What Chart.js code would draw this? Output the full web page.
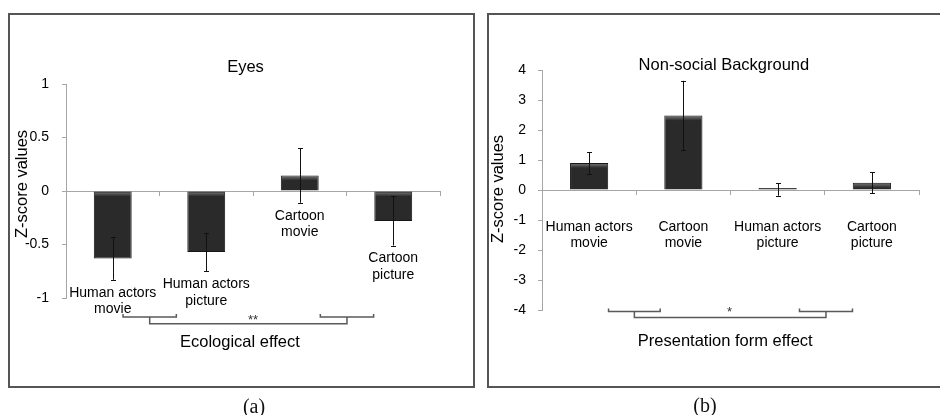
<!DOCTYPE html>
<html><head><meta charset="utf-8">
<script src="https://cdn.jsdelivr.net/npm/chart.js@4.4.1/dist/chart.umd.min.js"></script>
<style>
html,body{margin:0;padding:0;background:#fff;width:940px;height:415px;overflow:hidden;position:relative;}
.box{position:absolute;border:2px solid #555;box-sizing:border-box;}
canvas{position:absolute;top:0;}
.cap{position:absolute;font:20px "Liberation Serif","Times New Roman",serif;transform:translate(-50%,-50%);color:#111;white-space:nowrap;}
</style></head><body>
<div class="box" style="left:8px;top:13px;width:467px;height:375px"></div>
<div class="box" style="left:487px;top:13px;width:470px;height:375px"></div>
<canvas id="ca" width="480" height="415" style="left:0"></canvas>
<canvas id="cb" width="460" height="415" style="left:480px"></canvas>
<div class="cap" style="left:254px;top:406px">(a)</div>
<div class="cap" style="left:705px;top:405px">(b)</div>
<script>
// ---- data ----
const eyesCategories = [["Human actors","movie"],["Human actors","picture"],["Cartoon","movie"],["Cartoon","picture"]];
const eyesMeans  = [-0.63, -0.57, 0.145, -0.28];
const eyesErrors = [0.20, 0.18, 0.255, 0.23];
const eyesTicks  = [-1, -0.5, 0, 0.5, 1];

const bgCategories = [["Human actors","movie"],["Cartoon","movie"],["Human actors","picture"],["Cartoon","picture"]];
const bgMeans  = [0.9, 2.48, 0.02, 0.24];
const bgErrors = [0.36, 1.16, 0.21, 0.35];
const bgTicks  = [-4, -3, -2, -1, 0, 1, 2, 3, 4];

const FONT = '"Liberation Sans", Arial, sans-serif';
Chart.defaults.font.family = FONT;
Chart.defaults.color = '#000';

const annot = {
  id: 'annot',
  afterDatasetsDraw(chart, args, o) {
    const ctx = chart.ctx, xs = chart.scales.x, ys = chart.scales.y;
    const meta = chart.getDatasetMeta(0);
    const ds = chart.data.datasets[0];
    ctx.save();
    // bevel highlight at the top edge of each bar
    meta.data.forEach(bar => {
      const p = bar.getProps(['x','y','base','width'], true);
      const top = Math.min(p.y, p.base), h = Math.abs(p.base - p.y);
      const s = Math.min(5, h - 1);
      if (s <= 0) return;
      const g = ctx.createLinearGradient(0, top, 0, top + s);
      g.addColorStop(0, 'rgba(255,255,255,0.38)');
      g.addColorStop(1, 'rgba(255,255,255,0)');
      ctx.fillStyle = g;
      ctx.fillRect(p.x - p.width/2 + 1, top + 1, p.width - 2, s);
    });
    // error bars
    ctx.strokeStyle = '#111'; ctx.lineWidth = 1;
    meta.data.forEach((bar, i) => {
      const v = ds.data[i], e = o.errors[i];
      const x = Math.round(bar.x) + 0.5;
      const yh = ys.getPixelForValue(v + e), yl = ys.getPixelForValue(v - e);
      ctx.beginPath();
      ctx.moveTo(x, yh); ctx.lineTo(x, yl);
      ctx.moveTo(x - 2.5, Math.round(yh) + 0.5); ctx.lineTo(x + 2.5, Math.round(yh) + 0.5);
      ctx.moveTo(x - 2.5, Math.round(yl) + 0.5); ctx.lineTo(x + 2.5, Math.round(yl) + 0.5);
      ctx.stroke();
    });
    // category labels
    ctx.fillStyle = '#000';
    ctx.font = '14px ' + FONT;
    ctx.textAlign = 'center'; ctx.textBaseline = 'middle';
    chart.data.labels.forEach((lab, i) => {
      const v = ds.data[i], e = o.errors[i];
      const x = meta.data[i].x;
      let y;
      if (o.labelMode === 'below') y = ys.getPixelForValue(Math.min(v - e, 0)) + 13;
      else y = ys.getPixelForValue(o.labelAt);
      lab.forEach((line, k) => ctx.fillText(line, x, y + k * 16.5));
    });
    // brackets
    const b = o.bracket;
    ctx.strokeStyle = '#5a5a5a'; ctx.lineWidth = 1.5;
    const y1 = ys.getPixelForValue(b.y1), y2 = ys.getPixelForValue(b.y2);
    const centers = [];
    b.pairs.forEach(([a, c]) => {
      const xa = xs.getPixelForValue(a), xc = xs.getPixelForValue(c);
      ctx.beginPath();
      ctx.moveTo(xa, y1 - 3); ctx.lineTo(xa, y1); ctx.lineTo(xc, y1); ctx.lineTo(xc, y1 - 3);
      ctx.stroke();
      centers.push((xa + xc) / 2);
    });
    ctx.beginPath();
    ctx.moveTo(centers[0], y1); ctx.lineTo(centers[0], y2); ctx.lineTo(centers[1], y2); ctx.lineTo(centers[1], y1);
    ctx.stroke();
    ctx.fillStyle = '#333';
    ctx.font = '13px ' + FONT;
    ctx.fillText(b.mark, xs.getPixelForValue(b.markAt[0]), ys.getPixelForValue(b.markAt[1]));
    // effect label and title
    ctx.fillStyle = '#000';
    ctx.font = '16.5px ' + FONT;
    ctx.fillText(o.effect.text, xs.getPixelForValue(o.effect.at[0]), ys.getPixelForValue(o.effect.at[1]));
    ctx.fillText(o.title.text, xs.getPixelForValue(o.title.at[0]), ys.getPixelForValue(o.title.at[1]));
    // y axis title
    ctx.translate(o.axisTitle.x, o.axisTitle.y);
    ctx.rotate(-Math.PI / 2);
    ctx.fillText(o.axisTitle.text, 0, 0);
    ctx.restore();
  }
};

function makeChart(id, cats, means, errs, ticks, L, A) {
  return new Chart(document.getElementById(id), {
    type: 'bar',
    data: { labels: cats, datasets: [{ data: means, backgroundColor: '#2a2a2a', borderColor: '#161616', borderWidth: 1, minBarLength: 2, barPercentage: 0.405, categoryPercentage: 1 }] },
    options: {
      responsive: false, animation: false, devicePixelRatio: 1,
      layout: { padding: L.pad },
      plugins: { legend: { display: false }, tooltip: { enabled: false }, annot: Object.assign({ errors: errs }, A) },
      scales: {
        x: { type: 'category', position: { y: 0 }, offset: true,
             grid: { offset: true, drawOnChartArea: false, drawTicks: true, tickLength: 4, color: '#a6a6a6' },
             border: { color: '#a6a6a6', width: 1 },
             ticks: { display: false },
             afterFit(s) { s.height = 0; } },
        y: { position: 'left', min: ticks[0], max: ticks[ticks.length - 1],
             afterBuildTicks(s) { s.ticks = ticks.map(v => ({ value: v })); },
             grid: { drawOnChartArea: false, drawTicks: true, tickLength: 4, color: '#a6a6a6' },
             border: { color: '#a6a6a6', width: 1 },
             ticks: { padding: L.tickPad, font: { size: 14 }, color: '#000', callback: v => String(v) },
             afterFit(s) { s.width = L.yWidth; } }
      }
    },
    plugins: [annot]
  });
}

makeChart('ca', eyesCategories, eyesMeans, eyesErrors, eyesTicks,
  { pad: { left: 0, right: 40, top: 84, bottom: 117 }, yWidth: 66, tickPad: 13 },
  { labelMode: 'below',
    bracket: { pairs: [[0.11, 0.68], [2.22, 2.79]], y1: -1.178, y2: -1.24, mark: '**', markAt: [1.5, -1.212] },
    effect: { text: 'Ecological effect', at: [1.36, -1.42] },
    title: { text: 'Eyes', at: [1.42, 1.155] },
    axisTitle: { text: 'Z-score values', x: 22.5, y: 184 } });

makeChart('cb', bgCategories, bgMeans, bgErrors, bgTicks,
  { pad: { left: 0, right: 21, top: 70, bottom: 105 }, yWidth: 62, tickPad: 12 },
  { labelMode: 'fixed', labelAt: -1.23,
    bracket: { pairs: [[0.206, 0.754], [2.232, 2.794]], y1: -4.047, y2: -4.247, mark: '*', markAt: [1.49, -4.067] },
    effect: { text: 'Presentation form effect', at: [1.444, -5.05] },
    title: { text: 'Non-social Background', at: [1.43, 4.153] },
    axisTitle: { text: 'Z-score values', x: 18.7, y: 189 } });
</script>
</body></html>
